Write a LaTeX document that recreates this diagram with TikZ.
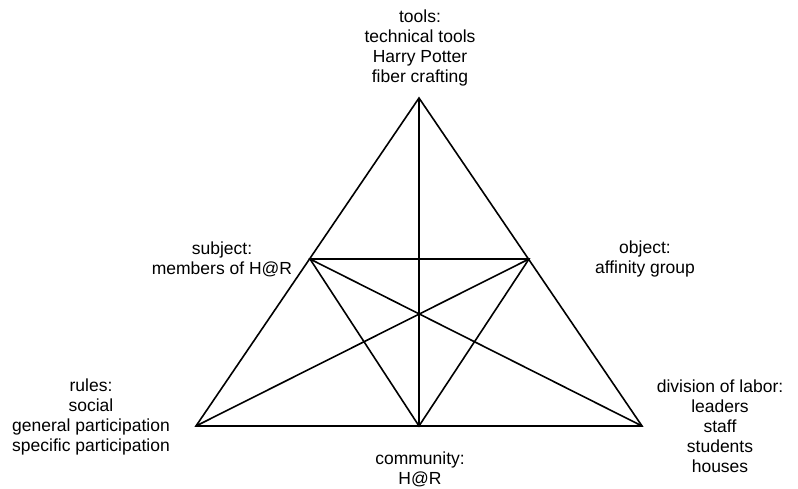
\documentclass[tikz,border=0pt]{standalone}
\usepackage{fontspec}
\setmainfont{Liberation Sans}

\begin{document}
\begin{tikzpicture}[x=1pt,y=-1pt,line width=1.6pt,
	txt/.style={align=center,inner sep=0pt,font=\fontsize{17.5}{20}\selectfont}]
	\useasboundingbox (0,0) rectangle (798,489);
	% corners of the triangle
	\coordinate (apex) at (419,98);
	\coordinate (bl) at (196,426);
	\coordinate (br) at (642,426);
	% points on the sides
	\coordinate (ml) at (310,259);
	\coordinate (mr) at (529,259);
	\coordinate (mb) at (419,426);
	\node[txt] (tools) at (420,48) {tools:\\technical tools\\Harry Potter\\fiber crafting};
	\node[txt] (subject) at (222,259) {subject:\\members of H@R};
	\node[txt] (object) at (645,259) {object:\\affinity group};
	\node[txt] (rules) at (91,417) {rules:\\social\\general participation\\specific participation};
	\node[txt] (labor) at (720,426) {division of labor:\\leaders\\staff\\students\\houses};
	\node[txt] (community) at (420,469) {community:\\H@R};
	\draw (apex) -- (bl) -- (br) -- cycle;
	\draw (apex) -- (mb);
	\draw (ml) -- (mr) -- (mb) -- cycle;
	\draw (bl) -- (mr);
	\draw (br) -- (ml);
\end{tikzpicture}
\end{document}
